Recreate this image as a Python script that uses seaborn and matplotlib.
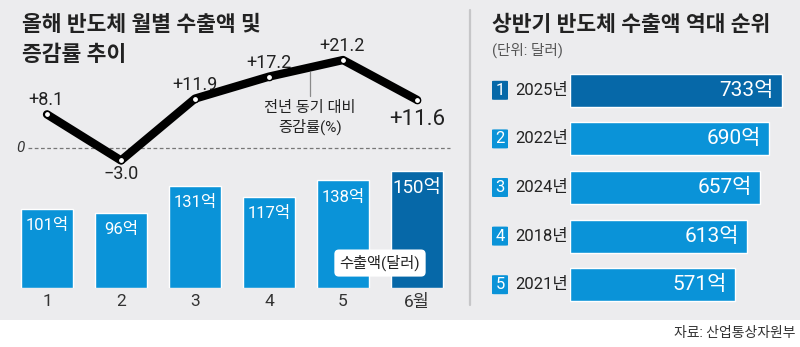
import numpy as np
import pandas as pd
import matplotlib
matplotlib.use("Agg")
import matplotlib.pyplot as plt
import matplotlib.transforms as mtrans
from matplotlib.patches import Rectangle, FancyBboxPatch
from matplotlib.lines import Line2D
import seaborn as sns

# ---- data ----
months = ["1", "2", "3", "4", "5", "6"]
month_labels = ["1", "2", "3", "4", "5", "6월"]
exports = [101, 96, 131, 117, 138, 150]          # 억 달러
growth = [8.1, -3.0, 11.9, 17.2, 21.2, 11.6]      # 전년 동기 대비 %
rank_years = ["2025년", "2022년", "2024년", "2018년", "2021년"]
rank_values = [733, 690, 657, 613, 571]            # 억 달러
ranks = ["1", "2", "3", "4", "5"]

LIGHT = "#0a93d8"
DARK = "#0668a8"
BG = "#ececee"
TXT = "#222222"

sns.set_theme(style="white")
plt.rcParams["font.family"] = ["Roboto", "Noto Sans CJK KR", "DejaVu Sans"]
plt.rcParams["axes.unicode_minus"] = True

W, H = 800, 347
fig = plt.figure(figsize=(8, 3.47), dpi=100)
fig.patch.set_facecolor("white")

def fx(px):
    return px / W

def fy(py):
    return 1 - py / H

# gray background band
fig.patches.append(Rectangle((0, fy(320)), 1, 320 / H, transform=fig.transFigure,
                             facecolor=BG, edgecolor="none", zorder=-10))
# separator
fig.add_artist(Line2D([fx(470), fx(470)], [fy(10), fy(305)], color="#c6c6c8", lw=1.6,
                      transform=fig.transFigure))

# ---------------- left panel ----------------
top_px, bot_px = 40, 288
ax = fig.add_axes([0, fy(bot_px), fx(460), (bot_px - top_px) / H])
ax.set_facecolor("none")
df = pd.DataFrame({"month": months, "exports": exports})
bar_colors = [LIGHT] * (len(months) - 1) + [DARK]
sns.barplot(data=df, x="month", y="exports", hue="month", palette=bar_colors,
            width=0.69, saturation=1, legend=False, ax=ax)
ax.set_xlim(-47 / 74, (460 - 47) / 74)
ax.set_ylim(0, (bot_px - top_px) / 0.78)
ax.set_xticks(range(len(months)))
ax.set_xticklabels(month_labels, fontsize=12.5, color="#333333")
ax.tick_params(axis="x", length=0, pad=4)
ax.set_yticks([])
ax.set_xlabel("")
ax.set_ylabel("")
for s in ax.spines.values():
    s.set_visible(False)

for i, v in enumerate(exports):
    ax.annotate(f"{v}억", (i, v), xytext=(0, -12), textcoords="offset points",
                ha="center", va="center", color="white",
                fontsize=13.5 if i == len(exports) - 1 else 12)

# legend-like label for bars
ax.text(4.5, 32, "수출액(달러)", ha="center", va="center", fontsize=11, color=TXT,
        bbox=dict(boxstyle="round,pad=0.35,rounding_size=0.3", facecolor="white",
                  edgecolor="none"), zorder=5)

# line on twin axis
ax2 = ax.twinx()
ax2.set_facecolor("none")
ax2.set_ylim(-(bot_px - 148) / 4.15, (148 - top_px) / 4.15)
for s in ax2.spines.values():
    s.set_visible(False)
ax2.set_yticks([])
ax2.axhline(0, xmin=28 / 460, xmax=450 / 460, color="#777777", lw=0.9,
            ls=(0, (3, 2)), zorder=1)
trans0 = mtrans.blended_transform_factory(ax2.transAxes, ax2.transData)
ax2.text(20 / 460, 0, "0", transform=trans0, ha="center", va="center",
         fontsize=11, style="italic", color="#333333")

sns.lineplot(x=np.arange(len(growth)), y=growth, ax=ax2, color="black", lw=6,
             marker="o", markersize=4.5, markerfacecolor="white",
             markeredgecolor="black", markeredgewidth=1, zorder=4)
ax2.set_xlim(ax.get_xlim())

for i, v in enumerate(growth):
    lab = f"{v:+.1f}".replace("-", "\u2212")
    last = i == len(growth) - 1
    below = v < 0 or last
    dy = -(14 if last else 10) if below else 10
    ax2.annotate(lab, (i, v), xytext=(-1 if i in (0, 4) else 0, dy),
                 textcoords="offset points", ha="center", va="center",
                 fontsize=16 if last else 13, color=TXT)

ax2.text((310 - 47) / 74, (148 - 118) / 4.15, "전년 동기 대비\n증감률(%)",
         ha="center", va="center", fontsize=11, color=TXT, linespacing=1.25)
ax2.plot([(310 - 47) / 74] * 2, [(148 - 72) / 4.15, (148 - 96) / 4.15],
         color="#8a8a8a", lw=0.9)

fig.text(fx(22), fy(25), "올해 반도체 월별 수출액 및", ha="left", va="center",
         fontsize=15.5, fontweight="bold", color=TXT)
fig.text(fx(22), fy(55), "증감률 추이", ha="left", va="center",
         fontsize=15.5, fontweight="bold", color=TXT)

# ---------------- right panel ----------------
rtop, rbot = 66, 309
ax3 = fig.add_axes([fx(570), fy(rbot), fx(220), (rbot - rtop) / H])
ax3.set_facecolor("none")
rdf = pd.DataFrame({"year": rank_years, "value": rank_values})
rcolors = [DARK] + [LIGHT] * (len(rank_years) - 1)
sns.barplot(data=rdf, y="year", x="value", hue="year", palette=rcolors,
            orient="h", width=0.68, saturation=1, legend=False, ax=ax3)
ax3.set_xlim(0, 220 / 0.289)
ax3.set_ylim(len(rank_years) - 0.5, -0.5)
ax3.set_xticks([])
ax3.set_yticks([])
ax3.set_xlabel("")
ax3.set_ylabel("")
for s in ax3.spines.values():
    s.set_visible(False)

for i, v in enumerate(rank_values):
    ax3.annotate(f"{v}억", (v, i), xytext=(-6, 0), textcoords="offset points",
                 ha="right", va="center", color="white", fontsize=15)

tb = mtrans.blended_transform_factory(ax3.transAxes, ax3.transData)
bw = 16 / 220
for i, (r, yr) in enumerate(zip(ranks, rank_years)):
    hh = 19 / (rbot - rtop) * len(rank_years)
    ax3.add_patch(FancyBboxPatch(((492 - 570) / 220, i - hh / 2), bw, hh,
                                 boxstyle="round,pad=0,rounding_size=0.01",
                                 transform=tb, facecolor=DARK if i == 0 else LIGHT,
                                 edgecolor="none", clip_on=False))
    ax3.text((500 - 570) / 220, i, r, transform=tb, ha="center", va="center",
             color="white", fontsize=12, clip_on=False)
    ax3.text((515 - 570) / 220, i, yr, transform=tb, ha="left", va="center",
             color=TXT, fontsize=12, clip_on=False)

fig.text(fx(492), fy(25), "상반기 반도체 수출액 역대 순위", ha="left", va="center",
         fontsize=15.5, fontweight="bold", color=TXT)
fig.text(fx(492), fy(50), "(단위: 달러)", ha="left", va="center",
         fontsize=10.5, color="#555555")

fig.text(fx(795), fy(333), "자료: 산업통상자원부", ha="right", va="center",
         fontsize=10, color="#333333")

fig.savefig("out.png", dpi=100, facecolor=fig.get_facecolor())
